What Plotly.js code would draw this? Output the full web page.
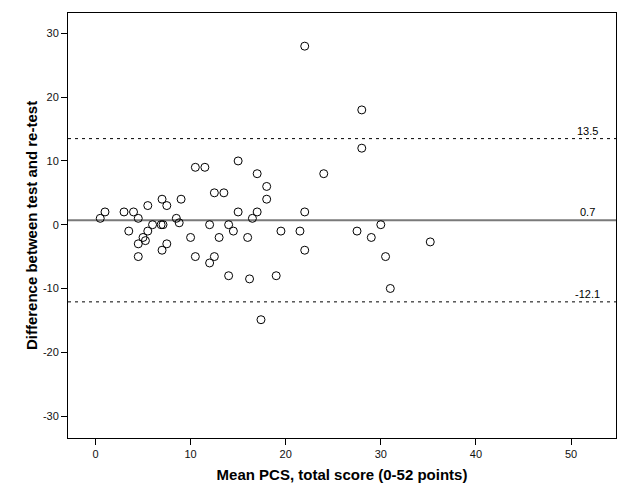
<!DOCTYPE html>
<html>
<head>
<meta charset="utf-8">
<script src="https://cdn.plot.ly/plotly-3.0.1.min.js"></script>
<style>html,body{margin:0;padding:0;background:#fff;}#chart{width:629px;height:504px;}</style>
</head>
<body>
<div id="chart"></div>
<script>
const meanPCS = [0.5,1,3,4,4.5,3.5,5.5,7,7.5,9,8.5,8.8,6,6.9,7.1,5.5,5,5.25,4.5,7.5,7,4.5,10,10.5,10.5,11.5,12.5,13.5,12,12.5,12,15,17,18,18,15,17,16.5,14,14.5,13,16,14,16.2,19,17.4,22,28,28,24,22,19.5,21.5,27.5,30,29,22,30.5,31,35.2];
const diffScore = [1,2,2,2,1,-1,3,4,3,4,1,0.3,0,0,0,-1,-2,-2.5,-3,-3,-4,-5,-2,-5,9,9,5,5,0,-5,-6,10,8,6,4,2,2,1,0,-1,-2,-2,-8,-8.5,-8,-14.9,28,18,12,8,2,-1,-1,-1,0,-2,-4,-5,-10,-2.7];
const meanDiff = 0.7;
const upperLoA = 13.5;
const lowerLoA = -12.1;
const lineLabels = ["13.5","0.7","-12.1"];
const xTicks = [0,10,20,30,40,50];
const yTicks = [-30,-20,-10,0,10,20,30];

const FONT = 'Liberation Sans, Arial, sans-serif';

const trace = {
  x: meanPCS, y: diffScore, type: 'scatter', mode: 'markers',
  marker: {symbol: 'circle-open', size: 8, color: '#000', line: {width: 1, color: '#000'}},
  hoverinfo: 'x+y', showlegend: false
};

const levels = [upperLoA, meanDiff, lowerLoA];
const shapes = levels.map((v, i) => ({
  type: 'line', xref: 'paper', x0: 0, x1: 1, yref: 'y', y0: v, y1: v,
  line: i === 1 ? {color: '#7a7a7a', width: 2} : {color: '#000', width: 1, dash: '3px,4px'},
  layer: 'below'
}));
const annotations = levels.map((v, i) => ({
  x: 51.7, y: v, xref: 'x', yref: 'y', text: lineLabels[i], showarrow: false,
  xanchor: 'center', yanchor: 'bottom', yshift: 0,
  font: {family: FONT, size: 11, color: '#000'}
}));

const layout = {
  width: 629, height: 504,
  margin: {l: 68, r: 13, t: 13, b: 66},
  paper_bgcolor: '#fff', plot_bgcolor: '#fff',
  font: {family: FONT, size: 11, color: '#000'},
  xaxis: {
    range: [-2.89, 54.73], tickvals: xTicks, ticktext: xTicks.map(String),
    ticks: 'outside', ticklen: 6, tickcolor: '#000', tickwidth: 1,
    showline: true, linecolor: '#000', linewidth: 1, mirror: true,
    showgrid: false, zeroline: false,
    tickfont: {family: FONT, size: 11, color: '#111'},
    title: {text: 'Mean PCS, total score (0-52 points)', standoff: 10,
      font: {family: FONT, size: 15, color: '#000', weight: 'bold'}}
  },
  yaxis: {
    range: [-33.45, 33.2], tickvals: yTicks, ticktext: yTicks.map(String),
    ticks: 'outside', ticklen: 6, tickcolor: '#000', tickwidth: 1,
    showline: true, linecolor: '#000', linewidth: 1, mirror: true,
    showgrid: false, zeroline: false,
    tickfont: {family: FONT, size: 11, color: '#111'},
    title: {text: 'Difference between test and re-test', standoff: 1,
      font: {family: FONT, size: 15, color: '#000', weight: 'bold'}}
  },
  shapes: shapes,
  annotations: annotations
};

Plotly.newPlot('chart', [trace], layout, {displayModeBar: false, staticPlot: true});
</script>
</body>
</html>
